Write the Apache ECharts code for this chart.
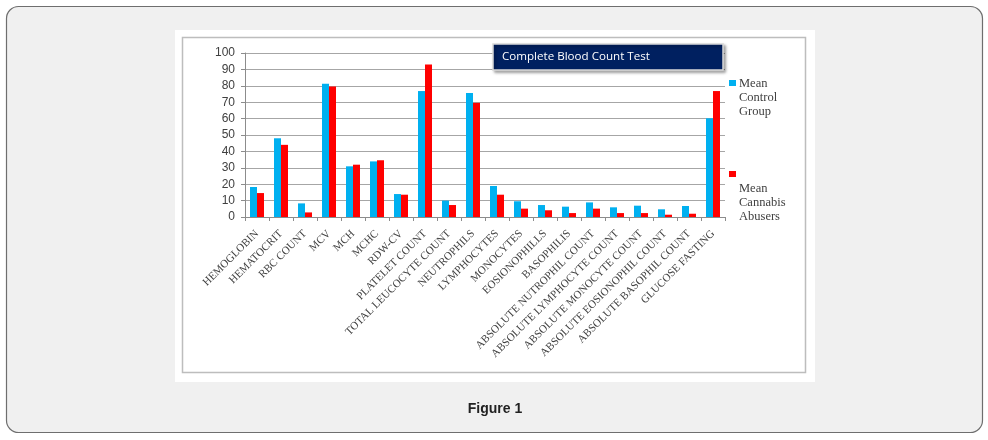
<!DOCTYPE html>
<html>
<head>
<meta charset="utf-8">
<script src="https://cdn.jsdelivr.net/npm/echarts@6/dist/echarts.min.js"></script>
<style>
html,body{margin:0;padding:0;background:#fff;}
#chart{width:988px;height:440px;}
</style>
</head>
<body>
<div id="chart"></div>
<script>
var categories = ["HEMOGLOBIN","HEMATOCRIT","RBC COUNT","MCV","MCH","MCHC","RDW-CV","PLATELET COUNT","TOTAL LEUCOCYTE COUNT","NEUTROPHILS","LYMPHOCYTES","MONOCYTES","EOSIONOPHILLS","BASOPHILIS","ABSOLUTE NUTROPHIL COUNT","ABSOLUTE LYMPHOCYTE COUNT","ABSOLUTE MONOCYTE COUNT","ABSOLUTE EOSIONOPHIL COUNT","ABSOLUTE BASOPHIL COUNT","GLUCOSE FASTING"];
var controlValues = [18.3,48,8.3,81.2,30.9,33.9,14,76.8,10,75.6,18.9,9.6,7.3,6.3,8.9,5.9,6.9,4.7,6.7,60.2];
var cannabisValues = [14.6,44,2.8,79.5,31.9,34.6,13.6,93,7.3,69.6,13.6,5.1,4.1,2.4,5.1,2.4,2.4,1.4,2,76.8];
var seriesNames = ["Mean Control Group","Mean Cannabis Abusers"];
var yTicks = [0,10,20,30,40,50,60,70,80,90,100];
var chartTitle = "Complete Blood Count Test";
var caption = "Figure 1";

var chart = echarts.init(document.getElementById('chart'), null, {renderer:'canvas'});
var option = {
  animation:false,
  backgroundColor:'#ffffff',
  grid:{left:245,right:263,top:53,bottom:223,containLabel:false},
  xAxis:{
    type:'category',
    data:categories,
    axisLine:{lineStyle:{color:'#8c8c8c',width:1}},
    axisTick:{show:true,length:4,lineStyle:{color:'#8c8c8c'}},
    axisLabel:{rotate:45,interval:0,margin:15,color:'#404040',fontFamily:'Liberation Serif',fontSize:11}
  },
  yAxis:{
    type:'value',min:yTicks[0],max:yTicks[yTicks.length-1],interval:10,
    axisLine:{show:true,lineStyle:{color:'#8c8c8c'}},
    axisTick:{show:true,length:4,lineStyle:{color:'#8c8c8c'}},
    axisLabel:{color:'#404040',fontFamily:'Liberation Sans',fontSize:12,margin:10},
    splitLine:{lineStyle:{color:'#a6a6a6',width:1}}
  },
  series:[
    {name:seriesNames[0],type:'bar',data:controlValues,barWidth:7,barGap:'0%',itemStyle:{color:'#00b0f0'}},
    {name:seriesNames[1],type:'bar',data:cannabisValues,barWidth:7,barGap:'0%',itemStyle:{color:'#ff0000'}}
  ],
  graphic:[
    {type:'rect',z:-10,silent:true,shape:{x:0,y:0,width:988,height:440},style:{fill:'#ffffff'}},
    {type:'rect',z:-9,silent:true,shape:{x:6.5,y:6.5,width:976,height:426,r:12},style:{fill:'#f0f0f0',stroke:'#6e6e6e',lineWidth:1.2}},
    {type:'rect',z:-8,silent:true,shape:{x:175,y:30,width:640,height:352},style:{fill:'#ffffff'}},
    {type:'rect',z:-7,silent:true,shape:{x:182.5,y:37.5,width:623,height:335},style:{fill:'#ffffff',stroke:'#bdbdbd',lineWidth:1.5}},
    {type:'rect',z:50,silent:true,shape:{x:493,y:44,width:230,height:26},style:{fill:'#002060',stroke:'#d9d9d9',lineWidth:1.5,shadowBlur:3,shadowOffsetX:2,shadowOffsetY:2,shadowColor:'rgba(0,0,0,0.35)'}},
    {type:'text',z:51,silent:true,x:502,y:57,style:{text:chartTitle,fill:'#ffffff',font:'11.6px "Open Sans"',textVerticalAlign:'middle',textAlign:'left'}},
    {type:'rect',z:50,silent:true,shape:{x:729,y:80,width:7,height:6},style:{fill:'#00b0f0'}},
    {type:'text',z:51,silent:true,x:739,y:77,style:{text:seriesNames[0].split(' ').join('\n'),fill:'#404040',font:'12.5px "Liberation Serif"',lineHeight:14,textAlign:'left',textVerticalAlign:'top'}},
    {type:'rect',z:50,silent:true,shape:{x:729,y:171,width:7,height:6},style:{fill:'#ff0000'}},
    {type:'text',z:51,silent:true,x:739,y:182,style:{text:seriesNames[1].split(' ').join('\n'),fill:'#404040',font:'12.5px "Liberation Serif"',lineHeight:14,textAlign:'left',textVerticalAlign:'top'}},
    {type:'text',z:51,silent:true,x:495,y:409,style:{text:caption,fill:'#222222',font:'bold 14px "Liberation Sans"',textAlign:'center',textVerticalAlign:'middle'}}
  ]
};
chart.setOption(option);
</script>
</body>
</html>
